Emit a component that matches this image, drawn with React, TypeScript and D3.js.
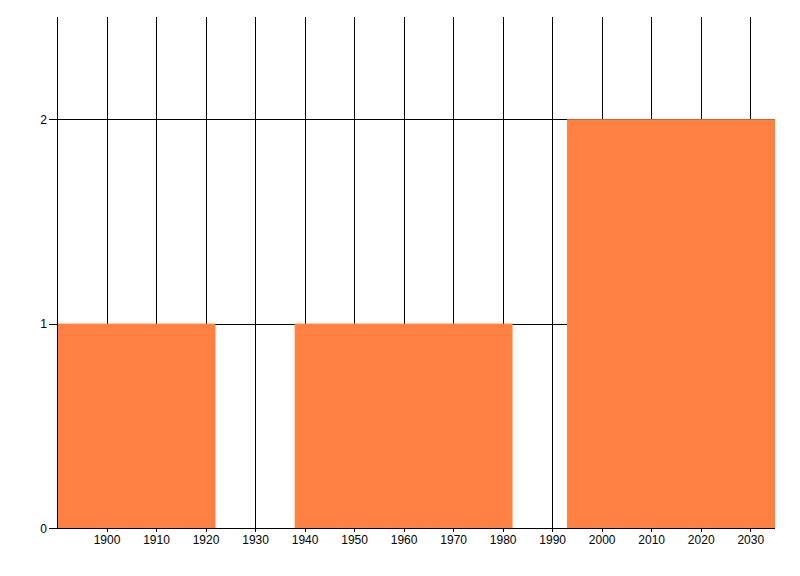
import { useEffect, useRef } from "react"
import * as d3 from "d3"

// histogram-like bins (years) and their counts
const binStarts = [1890, 1938, 1993]
const binEnds = [1922, 1982, 2035]
const counts = [1, 1, 2]
const xTicks = [1900, 1910, 1920, 1930, 1940, 1950, 1960, 1970, 1980, 1990, 2000, 2010, 2020, 2030]
const yTicks = [0, 1, 2]

const font = "'Liberation Sans Narrow', 'Liberation Sans', Arial, sans-serif"

export default function App() {
  const svgRef = useRef<SVGSVGElement>(null)

  useEffect(() => {
    if (!svgRef.current) return
    const svg = d3.select(svgRef.current)
    svg.selectAll("*").remove()

    const left = 57
    const right = 775
    const top = 17
    const bottom = 528

    const x = d3.scaleLinear().domain([1890, 2035]).range([left, right])
    const y = d3.scaleLinear().domain([0, 2.5]).range([bottom, top])
    const px = (v: number) => Math.round(v) + 0.5

    // vertical grid (runs a few px below the axis as tick marks)
    svg
      .append("g")
      .selectAll("line")
      .data([1890, ...xTicks])
      .enter()
      .append("line")
      .attr("x1", (d) => px(x(d)))
      .attr("x2", (d) => px(x(d)))
      .attr("y1", top)
      .attr("y2", (d) => (d === 1890 ? bottom : bottom + 4))
      .attr("stroke", "black")

    // horizontal grid
    svg
      .append("g")
      .selectAll("line")
      .data(yTicks.filter((d) => d > 0))
      .enter()
      .append("line")
      .attr("x1", left)
      .attr("x2", right)
      .attr("y1", (d) => px(y(d)))
      .attr("y2", (d) => px(y(d)))
      .attr("stroke", "black")

    // bars
    const bins = counts.map((c, i) => ({ x0: binStarts[i], x1: binEnds[i], v: c }))
    svg
      .append("g")
      .selectAll("rect")
      .data(bins)
      .enter()
      .append("rect")
      .attr("x", (d) => x(d.x0))
      .attr("width", (d) => x(d.x1) - x(d.x0))
      .attr("y", (d) => y(d.v))
      .attr("height", (d) => y(0) - y(d.v))
      .attr("fill", "#ff8040")

    // axes lines
    svg
      .append("line")
      .attr("x1", left)
      .attr("x2", right)
      .attr("y1", bottom + 0.5)
      .attr("y2", bottom + 0.5)
      .attr("stroke", "black")
    svg
      .append("line")
      .attr("x1", left + 0.5)
      .attr("x2", left + 0.5)
      .attr("y1", top)
      .attr("y2", bottom)
      .attr("stroke", "black")

    // x ticks below the axis
    svg
      .append("g")
      .selectAll("line")
      .data(xTicks)
      .enter()
      .append("line")
      .attr("x1", (d) => px(x(d)))
      .attr("x2", (d) => px(x(d)))
      .attr("y1", bottom)
      .attr("y2", bottom + 4)
      .attr("stroke", "black")

    // y ticks
    const yt = svg.append("g").selectAll("g").data(yTicks).enter().append("g")
    yt.append("line")
      .attr("x1", 49)
      .attr("x2", left)
      .attr("y1", (d) => px(y(d)))
      .attr("y2", (d) => px(y(d)))
      .attr("stroke", "black")
    yt.append("text")
      .attr("x", 47)
      .attr("y", (d) => y(d) + 4.5)
      .attr("text-anchor", "end")
      .style("font-family", font)
      .style("font-size", "12px")
      .text((d) => d)

    // x tick labels
    svg
      .append("g")
      .selectAll("text")
      .data(xTicks)
      .enter()
      .append("text")
      .attr("x", (d) => x(d) + 0.5)
      .attr("y", 543.5)
      .attr("text-anchor", "middle")
      .style("font-family", font)
      .style("font-size", "12px")
      .text((d) => d)
  }, [])

  return (
    <svg
      ref={svgRef}
      width={800}
      height={576}
      style={{ position: "absolute", left: 0, top: 0, background: "white" }}
    ></svg>
  )
}
